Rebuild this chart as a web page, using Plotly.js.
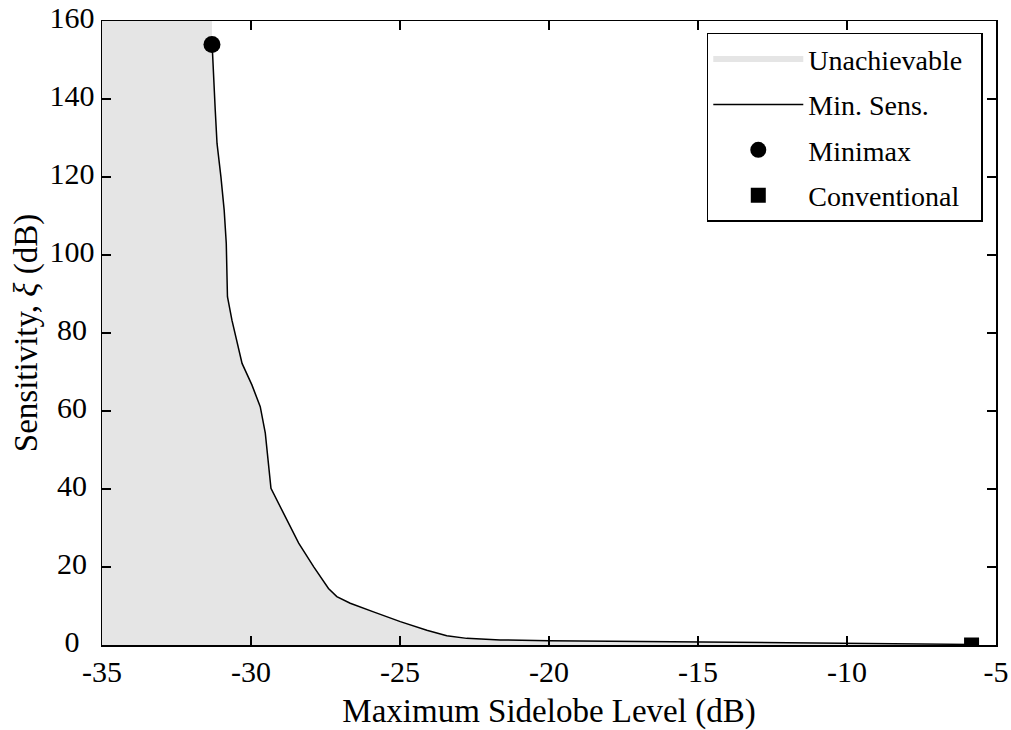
<!DOCTYPE html>
<html>
<head>
<meta charset="utf-8">
<script src="https://cdn.plot.ly/plotly-3.0.1.min.js"></script>
<style>html,body{margin:0;padding:0;background:#fff;}#chart{width:1011px;height:730px;}</style>
</head>
<body>
<div id="chart"></div>
<script>
// Min. Sens. curve (Maximum Sidelobe Level in dB vs Sensitivity in dB)
const curveX = [-31.31, -31.29, -31.20, -31.14, -31.01, -30.90, -30.83, -30.79, -30.64, -30.47, -30.30, -29.97, -29.69, -29.52, -29.41, -29.33, -28.91, -28.40, -27.90, -27.40, -27.12, -26.67, -25.89, -24.99, -24.10, -23.43, -22.76, -21.64, -20.0, -17.5, -15.0, -12.5, -10.0, -7.5, -5.82];
const curveY = [154.0, 151.7, 137.2, 128.6, 120.1, 111.5, 103.0, 89.3, 83.3, 77.4, 72.2, 66.7, 61.1, 54.3, 45.7, 40.2, 33.8, 26.1, 20.1, 14.5, 12.4, 10.7, 8.5, 6.0, 3.8, 2.4, 1.7, 1.3, 1.1, 0.95, 0.8, 0.6, 0.45, 0.3, 0.15];
// Special designs
const minimaxX = [-31.31];
const minimaxY = [154.0];
const conventionalX = [-5.82];
const conventionalY = [0];
// Axis bounds and ticks
const xMin = -35, xMax = -5, yMin = 0, yMax = 160;
const xTickVals = [-35, -30, -25, -20, -15, -10, -5];
const xTickText = ['-35', '-30', '-25', '-20', '-15', '-10', '-5'];
const yTickVals = [0, 20, 40, 60, 80, 100, 120, 140, 160];
const yTickText = ['0\u2007', '20\u2005', '40\u2005', '60\u2005', '80\u2005', '100', '120', '140', '160'];
const seriesNames = ['Unachievable\u2002', 'Min. Sens.', 'Minimax', 'Conventional\u2002'];

// Unachievable region: everything left of the curve
const fillX = [xMin, xMin, curveX[0]].concat(curveX, [curveX[curveX.length - 1]]);
const fillY = [yMin, yMax, yMax].concat(curveY, [yMin]);

const FONT = 'Liberation Serif';

const traces = [
  {x: fillX, y: fillY, type: 'scatter', mode: 'none', fill: 'toself', fillcolor: '#e5e5e5',
   name: seriesNames[0], hoverinfo: 'skip', legendgroup: 'a'},
  {x: curveX, y: curveY, type: 'scatter', mode: 'lines', line: {color: '#000', width: 1.5},
   name: seriesNames[1], legendgroup: 'b'},
  {x: minimaxX, y: minimaxY, type: 'scatter', mode: 'markers',
   marker: {symbol: 'circle', size: 17, color: '#000'}, name: seriesNames[2], legendgroup: 'c'},
  {x: conventionalX, y: conventionalY, type: 'scatter', mode: 'markers',
   marker: {symbol: 'square', size: 15, color: '#000'}, name: seriesNames[3], legendgroup: 'd'}
];

const axisCommon = {
  showgrid: false, zeroline: false, showline: true, linecolor: '#000', linewidth: 1.5,
  mirror: 'ticks', ticks: 'inside', ticklen: 9, tickwidth: 1.2, tickcolor: '#000',
  tickfont: {family: FONT, size: 30, color: '#000'}, tickmode: 'array'
};

const layout = {
  width: 1011, height: 730,
  margin: {l: 102, r: 15, t: 21, b: 85, pad: 0},
  paper_bgcolor: '#fff', plot_bgcolor: '#fff',
  font: {family: FONT, color: '#000'},
  showlegend: true,
  xaxis: Object.assign({}, axisCommon, {
    range: [xMin, xMax], tickvals: xTickVals, ticktext: xTickText, ticklabelstandoff: -1,
    title: {text: 'Maximum Sidelobe Level (dB)', font: {family: FONT, size: 33, color: '#000'}, standoff: 12}
  }),
  yaxis: Object.assign({}, axisCommon, {
    range: [yMin, yMax], tickvals: yTickVals, ticktext: yTickText, ticklabelshift: -4,
    title: {text: 'Sensitivity, <i>ξ</i> (dB)', font: {family: FONT, size: 33, color: '#000'}, standoff: 2}
  }),
  legend: {
    x: 0.6765, y: 0.981, xanchor: 'left', yanchor: 'top',
    bgcolor: '#fff', bordercolor: '#000', borderwidth: 1.5,
    font: {family: FONT, size: 28, color: '#000'},
    traceorder: 'grouped', tracegroupgap: 6, itemwidth: 90
  }
};

Plotly.newPlot('chart', traces, layout, {displayModeBar: false, staticPlot: true});
</script>
</body>
</html>
